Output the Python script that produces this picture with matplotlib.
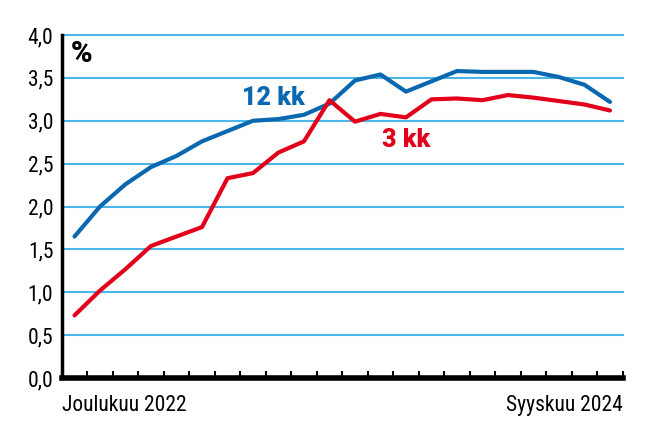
import matplotlib.pyplot as plt
import numpy as np

# kuukaudet joulukuu 2022 - syyskuu 2024
months = np.arange(22)
kk12 = [1.65, 2.00, 2.26, 2.46, 2.59, 2.76, 2.88, 3.00, 3.02, 3.07, 3.20,
        3.47, 3.54, 3.34, 3.46, 3.58, 3.57, 3.57, 3.57, 3.51, 3.42, 3.22]
kk3 = [0.73, 1.02, 1.27, 1.54, 1.65, 1.76, 2.33, 2.39, 2.63, 2.76, 3.24,
       2.99, 3.08, 3.04, 3.25, 3.26, 3.24, 3.30, 3.27, 3.23, 3.19, 3.12]
yticks = [0.0, 0.5, 1.0, 1.5, 2.0, 2.5, 3.0, 3.5, 4.0]
first_label = "Joulukuu 2022"
last_label = "Syyskuu 2024"

blue = "#0a68b0"
red = "#e2001a"
grid = "#4cb6e6"
narrow = ["Roboto Condensed", "Liberation Sans Narrow", "DejaVu Sans"]
nfont = dict(family=narrow, stretch="condensed", fontsize=15.5)
heavy = dict(family=["Roboto", "DejaVu Sans"], fontweight="black", fontsize=18)

fig = plt.figure(figsize=(6.5, 4.38), dpi=100)
ax = fig.add_axes([0.095, 0.137, 0.863, 0.783])

ax.plot(months, kk12, color=blue, lw=3, solid_capstyle="round", zorder=3)
ax.plot(months, kk3, color=red, lw=3, solid_capstyle="round", zorder=3)

ax.set_xlim(-0.5, len(months) - 0.5)
ax.set_ylim(0, 4.0)
ax.set_yticks(yticks)
ax.set_yticklabels([("%.1f" % v).replace(".", ",") for v in yticks], **nfont)
for v in yticks[1:]:
    ax.axhline(v, color=grid, lw=1.5, zorder=1, clip_on=False)

ax.set_xticks(np.arange(-0.5, len(months), 1.0))
ax.set_xticklabels([])
ax.tick_params(axis="x", direction="in", length=5, width=1.5, color="black")
ax.tick_params(axis="y", length=0, pad=6)

for s in ["top", "right"]:
    ax.spines[s].set_visible(False)
ax.spines["left"].set_linewidth(2.5)
ax.spines["bottom"].set_linewidth(4)

ax.text(0, -0.05, first_label, transform=ax.transAxes, ha="left", va="top",
        **nfont)
ax.text(1, -0.05, last_label, transform=ax.transAxes, ha="right", va="top",
        **nfont)

ax.text(0.016, 0.945, "%", transform=ax.transAxes, ha="left", va="center",
        color="black", **dict(heavy, fontsize=21))
ax.text(7.8, 3.27, "12 kk", color=blue, ha="center", va="center", **heavy)
ax.text(13.0, 2.77, "3 kk", color=red, ha="center", va="center", **heavy)

plt.savefig("out.png", dpi=100)
